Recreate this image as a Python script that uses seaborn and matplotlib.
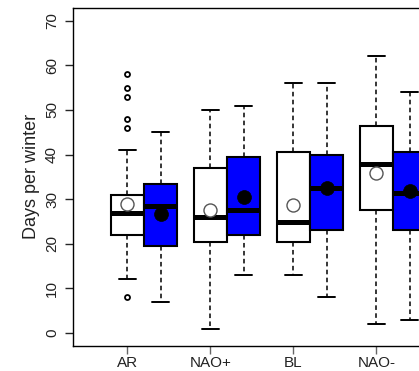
import numpy as np
import pandas as pd
import matplotlib
matplotlib.use("Agg")
import matplotlib.pyplot as plt
import seaborn as sns

categories = ["AR", "NAO+", "BL", "NAO-"]

white_whislo = [12, 1, 13, 2]
white_q1 = [22, 20.5, 20.5, 27.5]
white_med = [27, 26, 25, 38]
white_q3 = [31, 37, 40.5, 46.5]
white_whishi = [41, 50, 56, 62]
white_mean = [29, 27.6, 28.8, 35.9]
white_fliers = [[8, 46, 48, 53, 55, 58], [], [], []]

blue_whislo = [7, 13, 8, 3]
blue_q1 = [19.5, 22, 23, 23]
blue_med = [28.5, 27.5, 32.5, 31.5]
blue_q3 = [33.5, 39.5, 40, 40.5]
blue_whishi = [45, 51, 56, 54]
blue_mean = [26.6, 30.6, 32.4, 31.8]
blue_fliers = [[], [], [], []]

yticks = [0, 10, 20, 30, 40, 50, 60, 70]

sns.set_style("white")
plt.rcParams["font.family"] = ["Liberation Sans", "DejaVu Sans"]

W, H = 419, 371
fig = plt.figure(figsize=(W / 100, H / 100), dpi=100)
px = 83.0  # pixels per x unit
ax_left, ax_w = 73, 420
ax_bottom, ax_top = 345.5, 8.3
ax = fig.add_axes([ax_left / W, (H - ax_bottom) / H, ax_w / W, (ax_bottom - ax_top) / H])

x_lo = 1 - (127.3 - ax_left) / px
ax.set_xlim(x_lo, x_lo + ax_w / px)
ax.set_ylim(-2.8, 72.8)

def make_stats(lo, q1, med, q3, hi, mean, fl):
    out = []
    for i in range(len(lo)):
        out.append(dict(whislo=lo[i], q1=q1[i], med=med[i], q3=q3[i],
                        whishi=hi[i], mean=mean[i], fliers=fl[i]))
    return out

wstats = make_stats(white_whislo, white_q1, white_med, white_q3, white_whishi, white_mean, white_fliers)
bstats = make_stats(blue_whislo, blue_q1, blue_med, blue_q3, blue_whishi, blue_mean, blue_fliers)

pos_w = np.arange(1, len(categories) + 1, dtype=float)
pos_b = pos_w + 0.4

common = dict(widths=0.4, patch_artist=True, showmeans=False, showfliers=True,
              whiskerprops=dict(color="black", lw=1.1, linestyle=(0, (3, 2.2))),
              capprops=dict(color="black", lw=1.4),
              medianprops=dict(color="black", lw=3.6, solid_capstyle="butt"),
              flierprops=dict(marker="o", markersize=3.6, markerfacecolor="none",
                              markeredgecolor="black", markeredgewidth=1.3),
              manage_ticks=False)

ax.bxp(wstats, positions=pos_w,
       boxprops=dict(facecolor="white", edgecolor="black", lw=1.5), **common)
ax.bxp(bstats, positions=pos_b,
       boxprops=dict(facecolor="#0000ff", edgecolor="black", lw=1.5), **common)

df_w = pd.DataFrame({"x": pos_w, "mean": white_mean})
df_b = pd.DataFrame({"x": pos_b, "mean": blue_mean})
sns.scatterplot(data=df_w, x="x", y="mean", ax=ax, s=88, marker="o",
                facecolor="white", edgecolor="#555555", linewidth=1.0, zorder=5)
sns.scatterplot(data=df_b, x="x", y="mean", ax=ax, s=100, marker="o",
                color="black", edgecolor="black", linewidth=0.5, zorder=5)

ax.set_xticks(pos_w)
ax.set_xticklabels(categories)
ax.set_yticks(yticks)
ax.set_yticklabels([str(v) for v in yticks], rotation=90, va="center")
ax.set_xlabel("")
ax.set_ylabel("Days per winter", fontsize=13, color="#222222", labelpad=4)

for s in ["left", "bottom", "top"]:
    ax.spines[s].set_visible(True)
    ax.spines[s].set_color("black")
    ax.spines[s].set_linewidth(1.0)
ax.spines["right"].set_visible(False)

ax.tick_params(axis="y", left=True, direction="out", length=6, width=1.0,
               labelsize=11, labelcolor="#222222", pad=4)
ax.tick_params(axis="x", bottom=True, direction="out", length=6, width=1.0,
               labelsize=11, labelcolor="#222222", pad=1.5, color="#666666")

fig.savefig("out.png", dpi=100)
